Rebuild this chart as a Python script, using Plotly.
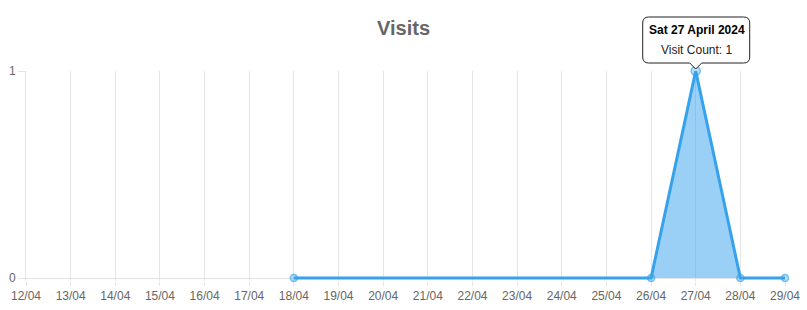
import plotly.graph_objects as go
import pandas as pd

# Data
dates = ["2024-04-18", "2024-04-26", "2024-04-27", "2024-04-28", "2024-04-29"]
visit_counts = [0, 0, 1, 0, 0]
x_range = ["2024-04-12", "2024-04-29"]
y_ticks = [0, 1]
title_text = "Visits"
tooltip_title = "Sat 27 April 2024"
tooltip_body = "Visit Count: 1"
tooltip_index = 2

BLUE = "rgb(54,162,235)"
FILL = "rgba(54,162,235,0.5)"
GRID = "#e5e5e5"
FONT = "Arial, Liberation Sans, Helvetica, sans-serif"

# small headroom below zero so the 3px line at 0 is not half-clipped
y_min = -3 / 207
y_max = 1

fig = go.Figure()
fig.add_trace(go.Scatter(
    x=dates, y=visit_counts,
    mode="lines+markers",
    fill="tozeroy", fillcolor=FILL,
    line=dict(color=BLUE, width=3),
    marker=dict(size=[7 if i != tooltip_index else 9 for i in range(len(dates))],
                color=FILL, line=dict(color=BLUE, width=1.5)),
    cliponaxis=False,
    hoverinfo="skip",
))

# Tooltip anchor in paper coordinates, derived from the data point
t0, t1 = pd.Timestamp(x_range[0]), pd.Timestamp(x_range[1])
tx = (pd.Timestamp(dates[tooltip_index]) - t0) / (t1 - t0)
ty = (visit_counts[tooltip_index] - y_min) / (y_max - y_min)

r = 6
L, R, B, T = -53, 54, 8, 54
cw = 6
path = (f"M 0 2 L {-cw} {B} L {L + r} {B} Q {L} {B} {L} {B + r} "
        f"L {L} {T - r} Q {L} {T} {L + r} {T} L {R - r} {T} Q {R} {T} {R} {T - r} "
        f"L {R} {B + r} Q {R} {B} {R - r} {B} L {cw} {B} Z")
fig.add_shape(type="path", path=path,
              xsizemode="pixel", ysizemode="pixel",
              xanchor=tx, yanchor=ty,
              xref="paper", yref="paper",
              fillcolor="white", line=dict(color="#222", width=1), layer="above")
fig.add_annotation(x=tx, y=ty, xref="paper", yref="paper",
                   xanchor="center", yanchor="middle",
                   text=f"<b>{tooltip_title}</b>", showarrow=False, yshift=41, xshift=1,
                   font=dict(family=FONT, size=12, color="#000"))
fig.add_annotation(x=tx, y=ty, xref="paper", yref="paper",
                   xanchor="center", yanchor="middle",
                   text=tooltip_body, showarrow=False, yshift=21, xshift=1,
                   font=dict(family=FONT, size=12, color="#222"))

fig.update_layout(
    width=807, height=310,
    margin=dict(l=26, r=22, t=71, b=29, autoexpand=False),
    paper_bgcolor="white", plot_bgcolor="white",
    showlegend=False,
    font=dict(family=FONT, size=12, color="#666"),
    title=dict(text=f"<b>{title_text}</b>", x=0.5, xanchor="center",
               y=1 - 28 / 310, yanchor="middle",
               font=dict(family=FONT, size=20, color="#666")),
    xaxis=dict(
        type="date", range=x_range, tickformat="%d/%m", dtick=86400000,
        tick0=x_range[0], automargin=False,
        showgrid=True, gridcolor=GRID, gridwidth=1,
        ticks="outside", ticklen=4, tickcolor=GRID,
        showline=False, zeroline=False,
        tickfont=dict(family=FONT, size=12, color="#666"),
    ),
    yaxis=dict(
        range=[y_min, y_max], tickvals=y_ticks, automargin=False,
        showgrid=True, gridcolor=GRID, gridwidth=1,
        ticks="outside", ticklen=7, tickcolor=GRID,
        showline=True, linecolor=GRID, zeroline=False,
        ticklabelstandoff=0,
        tickfont=dict(family=FONT, size=12, color="#666"),
    ),
)

fig.write_html("out.html")
